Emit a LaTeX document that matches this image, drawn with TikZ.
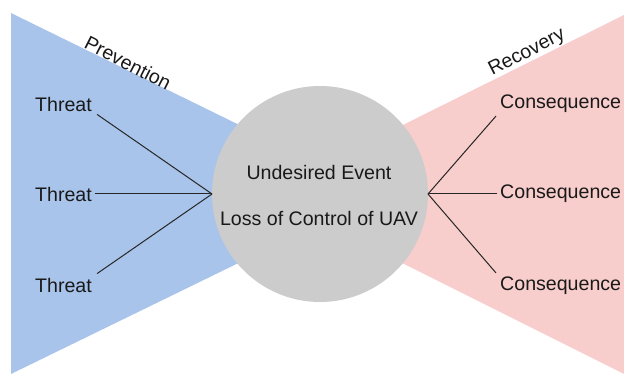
\documentclass[tikz,border=0pt]{standalone}
\usepackage{fontspec}
\setmainfont{Liberation Sans}
\definecolor{prevblue}{HTML}{A9C4EB}
\definecolor{recpink}{HTML}{F8CECC}
\definecolor{eventgray}{HTML}{CCCCCC}
\begin{document}
\begin{tikzpicture}[x=1pt,y=-1pt,
  lbl/.style={font=\fontsize{19.6}{22}\selectfont, text=black!90, inner sep=1pt},
  link/.style={draw=black!85, line width=1pt}]
\useasboundingbox (0,0) rectangle (624,374);
% prevention and recovery wedges
\fill[prevblue] (11,13) -- (380,194) -- (11,374) -- cycle;
\fill[recpink] (624,15) -- (264,194) -- (624,374) -- cycle;
% undesired event
\node[circle, fill=eventgray, minimum size=216pt, inner sep=0pt] (ev) at (320,194) {};
\node[lbl] (ue) at (319,172) {Undesired Event};
\node[lbl] (lc) at (319,218) {Loss of Control of UAV};
\coordinate (inL) at (212,194);
\coordinate (inR) at (428,194);
% wedge titles
\node[lbl, rotate=-27] (prev) at (128,63) {Prevention};
\node[lbl, rotate=27] (rec) at (527,53) {Recovery};
% threats
\node[lbl, anchor=west] (t1) at (34,104) {Threat};
\node[lbl, anchor=west] (t2) at (34,194) {Threat};
\node[lbl, anchor=west] (t3) at (34,285) {Threat};
% consequences
\node[lbl, anchor=west] (c1) at (499,104) {Consequence};
\node[lbl, anchor=west] (c2) at (499,194) {Consequence};
\node[lbl, anchor=west] (c3) at (499,286) {Consequence};
% connectors
\draw[link] ([xshift=4pt,yshift=-2pt]t1.south east) -- (inL);
\draw[link] ([xshift=2pt]t2.east) -- (inL);
\draw[link] ([xshift=4pt,yshift=3pt]t3.north east) -- (inL);
\draw[link] ([xshift=-3pt,yshift=-2pt]c1.south west) -- (inR);
\draw[link] ([xshift=-2pt]c2.west) -- (inR);
\draw[link] ([xshift=-3pt,yshift=3pt]c3.north west) -- (inR);
\end{tikzpicture}
\end{document}
